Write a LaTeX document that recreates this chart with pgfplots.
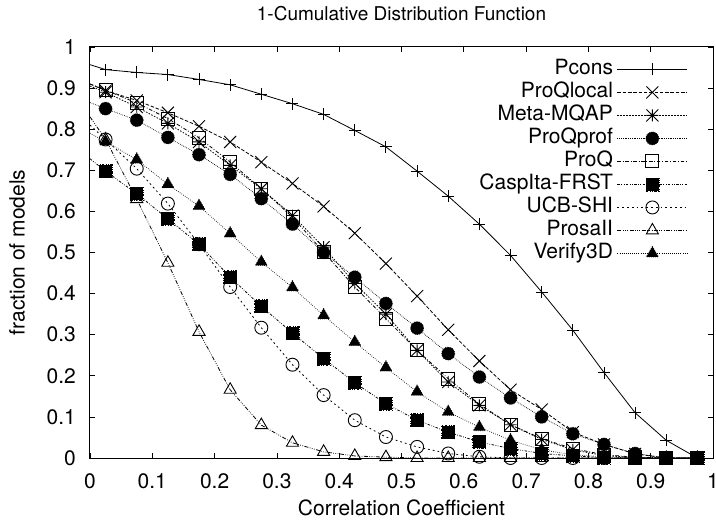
\documentclass[border=0pt]{standalone}
\usepackage{fontspec}
\setmainfont{TeX Gyre Heros}
\usepackage{pgfplots}
\pgfplotsset{compat=1.18}

\pgfdeclareplotmark{gpplus}{%
  \pgfpathmoveto{\pgfqpoint{-\pgfplotmarksize}{0pt}}\pgfpathlineto{\pgfqpoint{\pgfplotmarksize}{0pt}}%
  \pgfpathmoveto{\pgfqpoint{0pt}{-\pgfplotmarksize}}\pgfpathlineto{\pgfqpoint{0pt}{\pgfplotmarksize}}%
  \pgfusepathqstroke}
\pgfdeclareplotmark{gpx}{%
  \pgfpathmoveto{\pgfqpoint{-\pgfplotmarksize}{-\pgfplotmarksize}}\pgfpathlineto{\pgfqpoint{\pgfplotmarksize}{\pgfplotmarksize}}%
  \pgfpathmoveto{\pgfqpoint{-\pgfplotmarksize}{\pgfplotmarksize}}\pgfpathlineto{\pgfqpoint{\pgfplotmarksize}{-\pgfplotmarksize}}%
  \pgfusepathqstroke}
\pgfdeclareplotmark{gpstar}{%
  \pgfpathmoveto{\pgfqpoint{-\pgfplotmarksize}{0pt}}\pgfpathlineto{\pgfqpoint{\pgfplotmarksize}{0pt}}%
  \pgfpathmoveto{\pgfqpoint{0pt}{-\pgfplotmarksize}}\pgfpathlineto{\pgfqpoint{0pt}{\pgfplotmarksize}}%
  \pgfpathmoveto{\pgfqpoint{-\pgfplotmarksize}{-\pgfplotmarksize}}\pgfpathlineto{\pgfqpoint{\pgfplotmarksize}{\pgfplotmarksize}}%
  \pgfpathmoveto{\pgfqpoint{-\pgfplotmarksize}{\pgfplotmarksize}}\pgfpathlineto{\pgfqpoint{\pgfplotmarksize}{-\pgfplotmarksize}}%
  \pgfusepathqstroke}

\newcommand{\chartfont}{\fontsize{21bp}{25bp}\selectfont}
\newcommand{\titlefont}{\fontsize{19bp}{23bp}\selectfont}

\pgfplotsset{
  base/.style={black, line width=0.8bp, mark options={solid, line width=0.9bp}},
  sPcons/.style={base, solid, mark=gpplus, mark size=6bp},
  sLocal/.style={base, dash pattern=on 3.5bp off 1.8bp, mark=gpx, mark size=6bp},
  sMeta/.style={base, dash pattern=on 1.5bp off 1.5bp, mark=gpstar, mark size=6bp},
  sProf/.style={base, dash pattern=on 0.6bp off 1.2bp, mark=*, mark size=6.5bp, mark options={fill=black}},
  sProQ/.style={base, dash pattern=on 3.5bp off 1.8bp on 0.8bp off 1.8bp, mark=square, mark size=6.5bp},
  sCasp/.style={base, dash pattern=on 2.5bp off 1.5bp on 0.7bp off 1.5bp on 0.7bp off 1.5bp, mark=square*, mark size=6.5bp, mark options={fill=black}},
  sUCB/.style={base, dash pattern=on 1.8bp off 3bp, mark=o, mark size=6.5bp},
  sProsa/.style={base, dash pattern=on 4bp off 1.5bp on 0.7bp off 1.5bp on 0.7bp off 1.5bp on 0.7bp off 1.5bp, mark=triangle, mark size=7bp},
  sVerify/.style={base, dash pattern=on 0.6bp off 1.5bp, mark=triangle*, mark size=7bp, mark options={fill=black}},
}

\begin{document}
\chartfont
\begin{tikzpicture}[font=\chartfont]
\begin{axis}[
  at={(0,0)}, anchor=south west,
  scale only axis, width=623bp, height=411bp,
  xmin=0, xmax=1, ymin=0, ymax=1,
  xtick={0,0.1,...,1.0}, ytick={0,0.1,...,1.0},
  tick align=inside, major tick length=5bp,
  tick style={black, line width=0.8bp},
  axis line style={line width=1bp},
  clip=false,
  font=\chartfont,
  tick label style={font=\chartfont},
  /pgf/number format/assume math mode=true,
  xticklabel style={anchor=base, yshift=-30bp},
  yticklabel style={anchor=east, inner sep=0pt, xshift=-14bp},
  title={1-Cumulative Distribution Function},
  title style={at={(0.5,1)}, anchor=base, yshift=21bp, font=\titlefont},
  xlabel={Correlation Coefficient},
  xlabel style={at={(axis description cs:0.5,0)}, anchor=base, yshift=-57bp, font=\chartfont},
  ylabel={fraction of models},
  ylabel style={at={(axis description cs:0,0.5)}, anchor=center, yshift=73bp, font=\chartfont},
  legend image code/.code={\draw[mark repeat=2,mark phase=2,#1] plot coordinates {(0bp,0bp) (35bp,0bp) (70bp,0bp)};},
  legend style={at={(axis description cs:1,1)}, anchor=north east, xshift=-25bp, yshift=-11.5bp,
    draw=none, fill=none, inner sep=0pt, row sep=1.5bp, column sep=3bp, font=\chartfont,
    nodes={inner sep=1bp, text height=15bp, text depth=4.5bp}},
  legend cell align=right,
  legend plot pos=right,
]
\addplot[sPcons] coordinates {(0.025,0.945) (0.075,0.938) (0.125,0.933) (0.175,0.921) (0.225,0.908) (0.275,0.885) (0.325,0.862) (0.375,0.836) (0.425,0.797) (0.475,0.757) (0.525,0.698) (0.575,0.637) (0.625,0.569) (0.675,0.493) (0.725,0.404) (0.775,0.311) (0.825,0.208) (0.875,0.110) (0.925,0.043) (0.975,0.0)};
\addlegendentry{Pcons}
\addplot[sPcons, no markers, forget plot] coordinates {(0,0.957) (0.025,0.945)};

\addplot[sLocal] coordinates {(0.025,0.894) (0.075,0.870) (0.125,0.840) (0.175,0.807) (0.225,0.769) (0.275,0.720) (0.325,0.668) (0.375,0.612) (0.425,0.547) (0.475,0.473) (0.525,0.394) (0.575,0.312) (0.625,0.236) (0.675,0.166) (0.725,0.118) (0.775,0.063) (0.825,0.033) (0.875,0.010) (0.925,0.0) (0.975,0.0)};
\addlegendentry{ProQlocal}
\addplot[sLocal, no markers, forget plot] coordinates {(0,0.910) (0.025,0.894)};

\addplot[sMeta] coordinates {(0.025,0.890) (0.075,0.854) (0.125,0.814) (0.175,0.769) (0.225,0.712) (0.275,0.655) (0.325,0.590) (0.375,0.513) (0.425,0.425) (0.475,0.350) (0.525,0.262) (0.575,0.185) (0.625,0.128) (0.675,0.081) (0.725,0.045) (0.775,0.020) (0.825,0.006) (0.875,0.001) (0.925,0.0) (0.975,0.0)};
\addlegendentry{Meta-MQAP}
\addplot[sMeta, no markers, forget plot] coordinates {(0,0.905) (0.025,0.890)};

\addplot[sProf] coordinates {(0.025,0.850) (0.075,0.822) (0.125,0.780) (0.175,0.738) (0.225,0.690) (0.275,0.631) (0.325,0.569) (0.375,0.500) (0.425,0.440) (0.475,0.376) (0.525,0.316) (0.575,0.254) (0.625,0.197) (0.675,0.146) (0.725,0.100) (0.775,0.059) (0.825,0.033) (0.875,0.011) (0.925,0.0) (0.975,0.0)};
\addlegendentry{ProQprof}
\addplot[sProf, no markers, forget plot] coordinates {(0,0.865) (0.025,0.850)};

\addplot[sProQ] coordinates {(0.025,0.895) (0.075,0.864) (0.125,0.826) (0.175,0.779) (0.225,0.720) (0.275,0.655) (0.325,0.586) (0.375,0.501) (0.425,0.416) (0.475,0.339) (0.525,0.262) (0.575,0.193) (0.625,0.131) (0.675,0.081) (0.725,0.047) (0.775,0.023) (0.825,0.008) (0.875,0.002) (0.925,0.0) (0.975,0.0)};
\addlegendentry{ProQ}
\addplot[sProQ, no markers, forget plot] coordinates {(0,0.910) (0.025,0.895)};

\addplot[sCasp] coordinates {(0.025,0.698) (0.075,0.643) (0.125,0.582) (0.175,0.520) (0.225,0.440) (0.275,0.369) (0.325,0.304) (0.375,0.242) (0.425,0.183) (0.475,0.132) (0.525,0.092) (0.575,0.063) (0.625,0.039) (0.675,0.023) (0.725,0.011) (0.775,0.005) (0.825,0.001) (0.875,0.0) (0.925,0.0) (0.975,0.0)};
\addlegendentry{CaspIta-FRST}
\addplot[sCasp, no markers, forget plot] coordinates {(0,0.728) (0.025,0.698)};

\addplot[sUCB] coordinates {(0.025,0.775) (0.075,0.704) (0.125,0.619) (0.175,0.520) (0.225,0.416) (0.275,0.317) (0.325,0.227) (0.375,0.153) (0.425,0.092) (0.475,0.051) (0.525,0.027) (0.575,0.011) (0.625,0.003) (0.675,0.0) (0.725,0.0) (0.775,0.0) (0.825,0.0) (0.875,0.0) (0.925,0.0) (0.975,0.0)};
\addlegendentry{UCB-SHI}
\addplot[sUCB, no markers, forget plot] coordinates {(0,0.810) (0.025,0.775)};

\addplot[sProsa] coordinates {(0.025,0.775) (0.075,0.630) (0.125,0.475) (0.175,0.307) (0.225,0.166) (0.275,0.080) (0.325,0.037) (0.375,0.015) (0.425,0.005) (0.475,0.002) (0.525,0.0) (0.575,0.0) (0.625,0.0) (0.675,0.0) (0.725,0.0) (0.775,0.0) (0.825,0.0) (0.875,0.0) (0.925,0.0) (0.975,0.0)};
\addlegendentry{ProsaII}
\addplot[sProsa, no markers, forget plot] coordinates {(0,0.830) (0.025,0.775)};

\addplot[sVerify] coordinates {(0.025,0.770) (0.075,0.726) (0.125,0.666) (0.175,0.613) (0.225,0.546) (0.275,0.477) (0.325,0.415) (0.375,0.347) (0.425,0.282) (0.475,0.220) (0.525,0.161) (0.575,0.112) (0.625,0.075) (0.675,0.043) (0.725,0.020) (0.775,0.008) (0.825,0.003) (0.875,0.0) (0.925,0.0) (0.975,0.0)};
\addlegendentry{Verify3D}
\addplot[sVerify, no markers, forget plot] coordinates {(0,0.790) (0.025,0.770)};
\end{axis}
\pgfresetboundingbox
\path[use as bounding box] (-90bp,-64bp) rectangle (626bp,458bp);
\end{tikzpicture}
\end{document}
